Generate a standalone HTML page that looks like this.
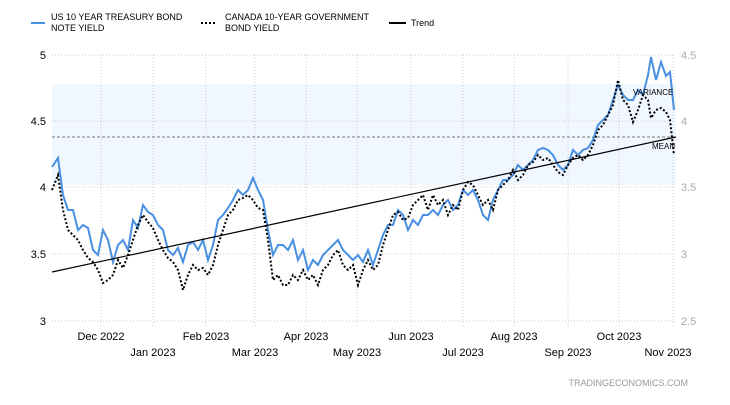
<!DOCTYPE html>
<html><head><meta charset="utf-8"><style>
body{margin:0;background:#fff;width:730px;height:400px;overflow:hidden;font-family:"Liberation Sans",sans-serif}
svg text{font-family:"Liberation Sans",sans-serif}
</style></head><body>
<svg width="730" height="400" viewBox="0 0 730 400">
<rect x="52" y="84" width="624" height="101" fill="#f0f7ff"/>
<g stroke="#ccc" stroke-dasharray="1,2" stroke-width="1">
<line x1="52" y1="55" x2="676" y2="55"/><line x1="52" y1="121" x2="676" y2="121"/><line x1="52" y1="187" x2="676" y2="187"/><line x1="52" y1="254" x2="676" y2="254"/><line x1="52" y1="321" x2="676" y2="321"/>
<line x1="101" y1="55" x2="101" y2="326"/><line x1="153" y1="55" x2="153" y2="326"/><line x1="206" y1="55" x2="206" y2="326"/><line x1="255" y1="55" x2="255" y2="326"/><line x1="306" y1="55" x2="306" y2="326"/><line x1="357" y1="55" x2="357" y2="326"/><line x1="411" y1="55" x2="411" y2="326"/><line x1="463" y1="55" x2="463" y2="326"/><line x1="514" y1="55" x2="514" y2="326"/><line x1="568" y1="55" x2="568" y2="326"/><line x1="619" y1="55" x2="619" y2="326"/><line x1="673" y1="55" x2="673" y2="326"/>
</g>
<line x1="52" y1="137" x2="676" y2="137" stroke="#777" stroke-dasharray="3,2"/>
<g font-size="11" fill="#000">
<text x="46" y="59" text-anchor="end">5</text><text x="46" y="125" text-anchor="end">4.5</text><text x="46" y="191" text-anchor="end">4</text><text x="46" y="258" text-anchor="end">3.5</text><text x="46" y="325" text-anchor="end">3</text>
</g>
<g font-size="11" fill="#aaa">
<text x="681" y="59">4.5</text><text x="681" y="125">4</text><text x="681" y="191">3.5</text><text x="681" y="258">3</text><text x="681" y="325">2.5</text>
</g>
<g font-size="11" fill="#000" text-anchor="middle">
<text x="101" y="340">Dec 2022</text><text x="206" y="340">Feb 2023</text><text x="306" y="340">Apr 2023</text><text x="411" y="340">Jun 2023</text><text x="514" y="340">Aug 2023</text><text x="619" y="340">Oct 2023</text>
<text x="153" y="356">Jan 2023</text><text x="255" y="356">Mar 2023</text><text x="357" y="356">May 2023</text><text x="463" y="356">Jul 2023</text><text x="568" y="356">Sep 2023</text><text x="668" y="356">Nov 2023</text>
</g>
<text x="688" y="386" font-size="9" fill="#999" text-anchor="end">TRADINGECONOMICS.COM</text>
<polyline fill="none" stroke="#4a90e2" stroke-width="2" points="52,167 58,158 63,195 68,210 73,210 78,230 83,225 88,228 93,250 98,255 103,230 108,240 113,262 118,245 123,240 128,250 133,220 138,228 143,205 148,212 153,215 158,225 163,230 168,250 173,255 178,248 183,262 188,245 193,242 198,250 203,240 208,260 213,245 218,220 223,215 228,208 233,200 238,190 243,195 248,190 253,178 258,190 263,200 268,230 273,255 278,245 283,245 288,250 293,240 298,260 303,250 308,270 313,260 318,265 323,255 328,250 333,245 338,240 343,250 348,255 353,260 358,255 363,262 368,250 373,265 378,250 383,235 388,225 393,225 398,210 403,215 408,230 413,220 418,225 423,215 428,215 433,210 438,215 443,205 448,200 453,210 458,205 463,190 468,195 473,190 478,200 483,215 488,220 493,200 498,190 503,180 508,180 513,175 518,165 523,170 528,165 533,160 538,150 543,148 548,150 553,155 558,165 563,170 568,165 573,150 578,155 583,150 588,148 593,140 598,125 603,120 608,115 613,100 618,85 623,95 628,100 633,100 638,90 643,95 648,75 651,57 656,80 661,62 666,76 670,72 674,110"/>
<polyline fill="none" stroke="#000" stroke-width="2" stroke-dasharray="2,2" points="52,190 58,175 63,210 68,230 73,235 78,240 83,250 88,258 93,262 98,270 103,283 108,280 113,275 118,260 123,268 128,255 133,240 138,225 143,215 148,222 153,228 158,240 163,250 168,258 173,262 178,270 183,290 188,275 193,265 198,270 203,268 208,275 213,265 218,245 223,230 228,215 233,210 238,200 243,198 248,195 253,200 258,208 263,210 268,240 273,280 278,275 283,285 288,285 293,275 298,280 303,270 308,280 313,275 318,285 323,270 328,265 333,255 338,250 343,265 348,270 353,265 358,285 363,270 368,260 373,270 378,265 383,245 388,230 393,215 398,212 403,220 408,218 413,205 418,200 423,195 428,210 433,195 438,205 443,200 448,215 453,205 458,210 463,190 468,182 473,185 478,195 483,205 488,200 493,210 498,190 503,185 508,180 513,170 518,180 523,175 528,165 533,162 538,155 543,160 548,158 553,165 558,172 563,175 568,165 573,158 578,155 583,160 588,155 593,145 598,130 603,125 608,115 613,105 618,80 623,100 628,105 633,122 638,110 643,95 648,100 651,118 656,110 661,108 666,112 670,120 674,155"/>
<line x1="52" y1="272" x2="676" y2="137" stroke="#000" stroke-width="1.2"/>
<text x="633" y="95" font-size="8" fill="#000">VARIANCE</text>
<text x="652" y="149" font-size="8" fill="#000">MEAN</text>
<line x1="31" y1="23" x2="45" y2="23" stroke="#4a90e2" stroke-width="2"/>
<text x="51" y="20" font-size="9" fill="#000">US 10 YEAR TREASURY BOND</text>
<text x="51" y="31" font-size="9" fill="#000">NOTE YIELD</text>
<line x1="201" y1="23" x2="217" y2="23" stroke="#000" stroke-width="2" stroke-dasharray="2,2"/>
<text x="225" y="20" font-size="9" fill="#000">CANADA 10-YEAR GOVERNMENT</text>
<text x="225" y="31" font-size="9" fill="#000">BOND YIELD</text>
<line x1="389" y1="23" x2="406" y2="23" stroke="#000" stroke-width="2"/>
<text x="411" y="26" font-size="9" fill="#000">Trend</text>
</svg>
</body></html>
